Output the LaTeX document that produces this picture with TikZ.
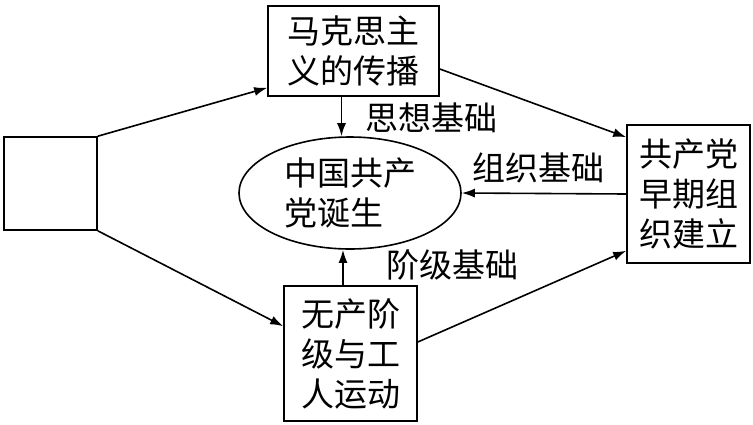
\documentclass[tikz,border=0pt]{standalone}
\usepackage{fontspec}
\usepackage{tikz}
\usetikzlibrary{arrows,arrows.meta}
\usetikzlibrary{shapes,shapes.geometric}
\newfontfamily\cjk{Noto Sans CJK SC}
\tikzstyle{kuang} = [draw, line width=1.6pt, shape=rectangle, inner sep=0pt, align=left, font=\cjk\fontsize{33}{40}\selectfont]
\tikzstyle{tuoyuan} = [draw, line width=1.6pt, shape=ellipse, inner sep=0pt, align=left, font=\cjk\fontsize{33}{40}\selectfont]
\tikzstyle{biao} = [inner sep=0pt, font=\cjk\fontsize{33}{40}\selectfont]
\tikzstyle{tuh} = [style={->,>={Latex[length=13pt,width=9pt]},line width=1.6pt}]

\begin{document}
\begin{tikzpicture}[x=1pt,y=-1pt]
        \useasboundingbox (0,0) rectangle (753,424);
        \node[kuang, minimum width=93, minimum height=93] (yy) at (50.5,183.5) {};
        \node[kuang, minimum width=171, minimum height=90] (mks) at (353.5,51) {马克思主\\义的传播};
        \node[tuoyuan, minimum width=222, minimum height=112] (dan) at (350,193) {中国共产\\党诞生};
        \node[kuang, minimum width=123, minimum height=138] (zz) at (688.5,194) {共产党\\早期组\\织建立};
        \node[kuang, minimum width=133, minimum height=135] (wc) at (350.5,353.5) {无产阶\\级与工\\人运动};
        \node[biao] (sx) at (431,118) {思想基础};
        \node[biao] (zj) at (538,168) {组织基础};
        \node[biao] (jj) at (452,265) {阶级基础};
        \draw[tuh] (yy.north east) -- ([yshift=9pt]mks.south west);
        \draw[tuh] (yy.south east) -- ([yshift=-41pt]wc.north west);
        \draw[tuh] ([xshift=-12pt]mks.south) -- ([xshift=-12pt]mks.south |- dan.north);
        \draw[tuh] ([yshift=-18pt]mks.east) -- ([yshift=-13pt]zz.north west);
        \draw[tuh] (zz.west) -- (dan.east);
        \draw[tuh] ([xshift=-7.5pt]wc.north) -- ([xshift=-7.5pt]wc.north |- dan.south);
        \draw[tuh] ([yshift=11.5pt]wc.east) -- ([yshift=13pt]zz.south west);
      \end{tikzpicture}
\end{document}
